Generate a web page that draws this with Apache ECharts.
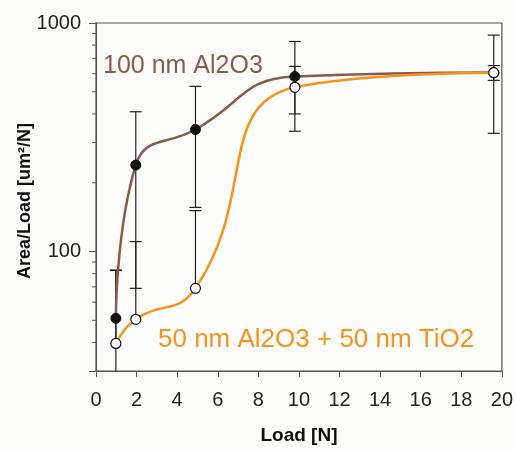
<!DOCTYPE html>
<html>
<head>
<meta charset="utf-8">
<script src="https://cdn.jsdelivr.net/npm/echarts@6/dist/echarts.min.js"></script>
<style>html,body{margin:0;padding:0;background:#fdfdfc;}#c{width:516px;height:450px;}</style>
</head>
<body>
<div id="c"></div>
<script>
// Data
const loads = [0.98, 1.96, 4.9, 9.8, 19.6];
const al2o3 = [51, 239, 342, 583, 607];
const al2o3Err = [32, 170, 186, 247, 278];
const tio2 = [39.6, 50.5, 69, 523, 606];
const tio2Err = [43, 60, 82, 123, 45];
const yMinorTicks = [40, 50, 60, 70, 80, 90, 200, 300, 400, 500, 600, 700, 800, 900];
const yMin = 30, yMax = 1000;
const xMin = 0, xMax = 20, xStep = 2;
const label1 = '100 nm Al2O3';
const label2 = '50 nm Al2O3 + 50 nm TiO2';
const xTitle = 'Load [N]';
const yTitle = 'Area/Load [um²/N]';

const brown = '#8c5a4b';
const orange = '#f7921c';
const font = 'Liberation Sans, Arial, sans-serif';

function errData(vals, errs) {
  return loads.map((x, i) => [x, vals[i] - errs[i], vals[i] + errs[i], vals[i]]);
}

function errRender(params, api) {
  const x = api.value(0), lo = api.value(1), hi = api.value(2), v = api.value(3);
  const top = api.coord([x, hi]);
  let bot, drawLowCap = false;
  if (lo <= 0) { bot = api.coord([x, v]); }
  else if (lo < yMin) { bot = api.coord([x, yMin]); }
  else { bot = api.coord([x, lo]); drawLowCap = true; }
  const cw = 6;
  const st = { stroke: '#222', lineWidth: 1.2 };
  const children = [
    { type: 'line', shape: { x1: top[0], y1: top[1], x2: bot[0], y2: bot[1] }, style: st },
    { type: 'line', shape: { x1: top[0] - cw, y1: top[1], x2: top[0] + cw, y2: top[1] }, style: st }
  ];
  if (drawLowCap) children.push({ type: 'line', shape: { x1: bot[0] - cw, y1: bot[1], x2: bot[0] + cw, y2: bot[1] }, style: st });
  return { type: 'group', children };
}

const chart = echarts.init(document.getElementById('c'));
chart.setOption({
  backgroundColor: '#fdfdfc',
  animation: false,
  grid: { left: 96, right: 10, top: 23, bottom: 72, show: true, borderColor: '#555', borderWidth: 1.2, backgroundColor: 'transparent' },
  xAxis: {
    type: 'value', min: xMin, max: xMax, interval: xStep,
    name: xTitle, nameLocation: 'middle', nameGap: 55,
    nameTextStyle: { fontFamily: font, fontSize: 19, fontWeight: 'bold', color: '#111' },
    axisLine: { show: true, lineStyle: { color: '#555', width: 1.2 } },
    axisTick: { show: true, inside: false, length: 6, lineStyle: { color: '#555' } },
    axisLabel: { fontFamily: font, fontSize: 20, color: '#222', margin: 19 },
    splitLine: { show: false }
  },
  yAxis: {
    type: 'log', min: yMin, max: yMax, logBase: 10,
    axisLine: { show: true, lineStyle: { color: '#555', width: 1.2 } },
    axisTick: { show: true, inside: false, length: 7, lineStyle: { color: '#555' } },
    axisLabel: { fontFamily: font, fontSize: 20, color: '#222', margin: 15,
      formatter: v => { const l = Math.log10(v); return Math.abs(l - Math.round(l)) < 1e-6 ? String(Math.round(v)) : ''; } },
    splitLine: { show: false }
  },
  graphic: [
    { type: 'text', left: 103, top: 54, style: { text: label1, fontFamily: font, fontSize: 25, fill: brown } },
    { type: 'text', left: 158, top: 327, style: { text: label2, fontFamily: font, fontSize: 26, fill: orange } },
    { type: 'text', x: 25, y: 201, rotation: Math.PI / 2,
      style: { text: yTitle, fontFamily: font, fontSize: 18, fontWeight: 'bold', fill: '#111', align: 'center', verticalAlign: 'middle' } }
  ],
  series: [
    {
      type: 'custom', name: 'minorTicks', z: 1, silent: true,
      data: yMinorTicks.map(v => [xMin, v]),
      renderItem: (params, api) => {
        const p = api.coord([api.value(0), api.value(1)]);
        return { type: 'line', shape: { x1: p[0] - 4, y1: p[1], x2: p[0], y2: p[1] }, style: { stroke: '#555', lineWidth: 1 } };
      }
    },
    { type: 'custom', name: 'errA', z: 1, silent: true, data: errData(al2o3, al2o3Err), renderItem: errRender },
    { type: 'custom', name: 'errB', z: 1, silent: true, data: errData(tio2, tio2Err), renderItem: errRender },
    {
      type: 'line', name: label1, z: 3, smooth: 0.5,
      data: loads.map((x, i) => [x, al2o3[i]]),
      lineStyle: { color: brown, width: 2.5 },
      symbol: 'circle', symbolSize: 10,
      itemStyle: { color: '#111', borderColor: '#111', borderWidth: 1 }
    },
    {
      type: 'line', name: label2, z: 4, smooth: 0.5,
      data: loads.map((x, i) => [x, tio2[i]]),
      lineStyle: { color: orange, width: 2.5 },
      symbol: 'circle', symbolSize: 10,
      itemStyle: { color: '#fff', borderColor: '#111', borderWidth: 1.2 }
    }
  ]
});
</script>
</body>
</html>
